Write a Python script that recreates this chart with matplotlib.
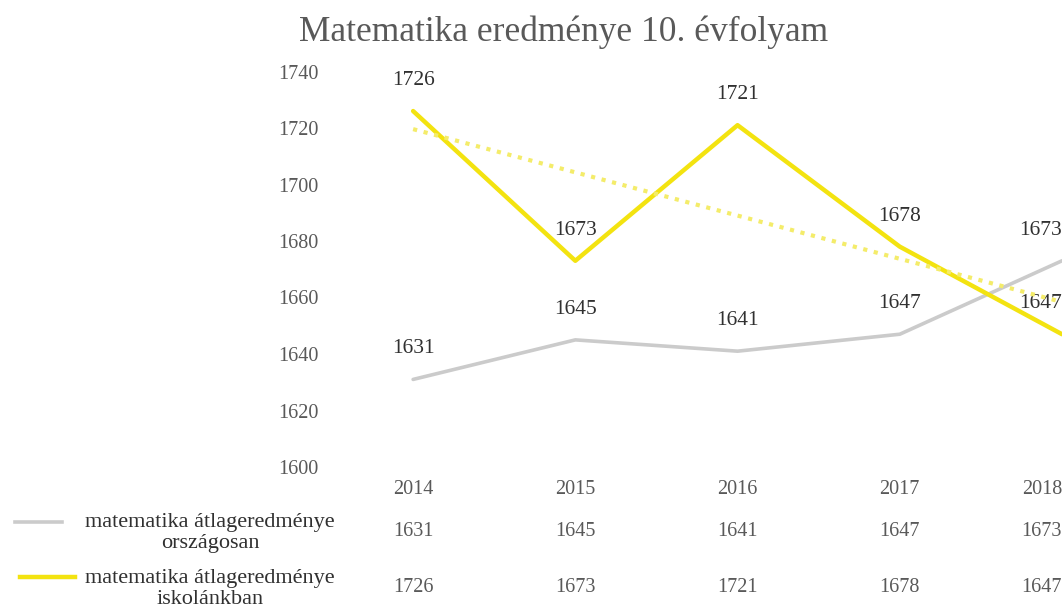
import numpy as np
import matplotlib.pyplot as plt
from matplotlib.lines import Line2D
from matplotlib.transforms import blended_transform_factory

plt.rcParams['font.family'] = ['Liberation Serif', 'DejaVu Serif']

evek = ['2014', '2015', '2016', '2017', '2018']
orszagos = [1631, 1645, 1641, 1647, 1673]
iskola = [1726, 1673, 1721, 1678, 1647]
nev_orszagos = 'matematika átlageredménye\nországosan'
nev_iskola = 'matematika átlageredménye\niskolánkban'
cim = 'Matematika eredménye 10. évfolyam'

SARGA = '#F3E310'
SZURKE = '#CBCBCB'
SZOVEG = '#595959'

fig = plt.figure(figsize=(10.62, 6.12), dpi=100)
ax = fig.add_axes([332/1062, 145/612, 1 - 332/1062, (467-71.5)/612])

x = np.arange(len(evek))
ax.plot(x, orszagos, color=SZURKE, lw=2.6, solid_capstyle='round', zorder=2)
ax.plot(x, iskola, color=SARGA, lw=3.2, solid_capstyle='round', zorder=3)

# lineáris trendvonal (iskola)
m, b = np.polyfit(x, iskola, 1)
ax.plot(x, m*x + b, color='#F4EC6A', lw=3, ls=(0, (1, 1.6)), zorder=4)

for i in x:
    ha = 'right' if i == len(x) - 1 else 'center'
    for v in (iskola[i], orszagos[i]):
        ax.annotate(str(v), (i, v), xytext=(0, 22), textcoords='offset points',
                    ha=ha, va='center', fontsize=15.5, color='#303030')

ax.set_xlim(-0.5, 4)
ax.set_ylim(1600, 1740)
ax.set_yticks(range(1600, 1741, 20))
ax.set_xticks(x)
ax.set_xticklabels(evek)
ax.get_xticklabels()[-1].set_ha('right')
ax.tick_params(axis='both', length=0, labelsize=14.5, labelcolor=SZOVEG)
ax.tick_params(axis='y', pad=10)
ax.tick_params(axis='x', pad=9)
for s in ax.spines.values():
    s.set_visible(False)
ax.patch.set_visible(False)

# adattábla
tr = blended_transform_factory(ax.transData, fig.transFigure)
for i in x:
    ha = 'right' if i == len(x) - 1 else 'center'
    ax.text(i, 1 - 531/612, str(orszagos[i]), transform=tr, ha=ha, va='center',
            fontsize=14.5, color=SZOVEG)
    ax.text(i, 1 - 587/612, str(iskola[i]), transform=tr, ha=ha, va='center',
            fontsize=14.5, color=SZOVEG)

# jelmagyarázat a tábla bal oldalán
fig.add_artist(Line2D([15/1062, 62/1062], [1 - 522/612] * 2, color=SZURKE, lw=2.6))
fig.add_artist(Line2D([20/1062, 75/1062], [1 - 577/612] * 2, color=SARGA, lw=3.2))
fig.text(210/1062, 1 - 533/612, nev_orszagos, ha='center', va='center', fontsize=16,
         color='#303030', linespacing=1.1)
fig.text(210/1062, 1 - 589/612, nev_iskola, ha='center', va='center', fontsize=16,
         color='#303030', linespacing=1.1)

fig.text(0.531, 1 - 32/612, cim, ha='center', va='center', fontsize=25.5, color=SZOVEG)

fig.savefig('out.png', dpi=100)
